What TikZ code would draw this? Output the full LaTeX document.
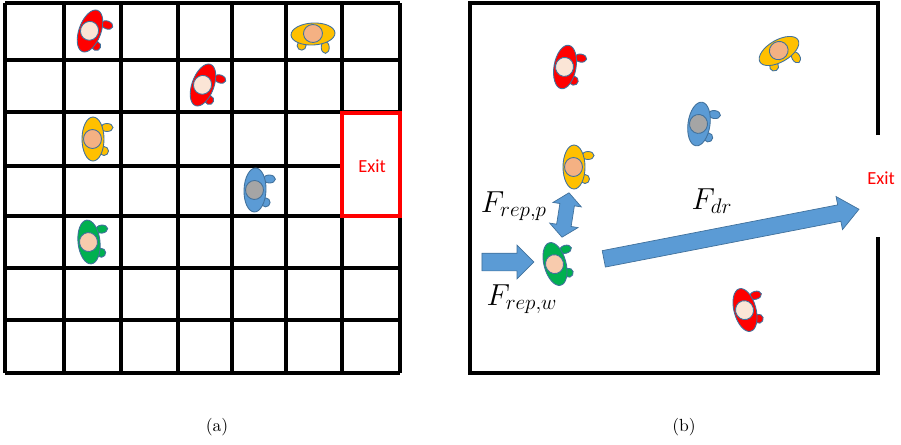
\documentclass[tikz,border=0pt]{standalone}
\usepackage{amsmath,amssymb}
\usepackage{xcolor}
\usepackage{fontspec}
\usepackage{tikz}
\usetikzlibrary{shapes.arrows}
\newfontfamily\exitfont{Carlito}
\definecolor{edgeblue}{HTML}{41719C}
\definecolor{forceblue}{HTML}{5B9BD5}
\definecolor{redbody}{HTML}{FF0000}
\definecolor{redhead}{HTML}{FBE5D6}
\definecolor{goldbody}{HTML}{FFC000}
\definecolor{goldhead}{HTML}{F4B183}
\definecolor{bluehead}{HTML}{A5A5A5}
\definecolor{greenbody}{HTML}{00B050}
\definecolor{greenhead}{HTML}{F8CBAD}
\tikzset{
  wall/.style={line width=2.2pt, draw=black},
  gridline/.style={line width=2pt, draw=black},
  exitbox/.style={line width=2.4pt, draw=red, fill=white},
  exitlab/.style={text=red, font=\exitfont\fontsize{10.5}{12}\selectfont},
  caplab/.style={font=\normalsize},
  forcelab/.style={font=\fontsize{16.5}{19}\selectfont},
  force/.style={draw=edgeblue, fill=forceblue, line width=0.4pt, outer sep=0pt, inner sep=0pt},
  personpart/.style={draw=edgeblue, line width=0.5pt}
}
% #1 x, #2 y, #3 turn, #4 body, #5 head
\newcommand{\person}[5]{
  \begin{scope}[shift={(#1,#2)}, rotate=#3]
    \draw[personpart, fill=#4] (14,11.5) ellipse (6 and 4);
    \draw[personpart, fill=#4] (11,-12) ellipse (4.5 and 4.5);
    \draw[personpart, fill=#4] (0,0) ellipse (11 and 22);
    \draw[personpart, fill=#5] (-0.5,0) ellipse (9 and 9.5);
  \end{scope}
}

\begin{document}
\begin{tikzpicture}[x=0.02cm, y=0.02cm]
  \useasboundingbox (0,0) rectangle (901,444);

  % left panel
  \foreach \gx in {5,64,121,178,232,286,342,400}
    \draw[gridline] (\gx,71) -- (\gx,441);
  \foreach \gy in {441,384,332,278,228,176,124,71}
    \draw[gridline] (5,\gy) -- (400,\gy);
  \draw[exitbox] (342,228) rectangle (400,331);
  \node[exitlab] (exitA) at (372,278) {Exit};

  \person{90}{413}{-20}{redbody}{redhead}
  \person{313}{410}{-87}{goldbody}{goldhead}
  \person{203}{359}{-20}{redbody}{redhead}
  \person{93}{305}{0}{goldbody}{goldhead}
  \person{255}{254}{-2}{forceblue}{bluehead}
  \person{89}{202}{6}{greenbody}{greenhead}

  % right panel
  \draw[wall] (878,309) -- (878,441) -- (470,441) -- (470,71) -- (878,71) -- (878,207);
  \node[exitlab] (exitB) at (881,266) {Exit};

  \person{565}{377}{-10}{redbody}{redhead}
  \person{779}{393}{-60}{goldbody}{goldhead}
  \person{699}{320}{-8}{forceblue}{bluehead}
  \person{574}{277}{0}{goldbody}{goldhead}
  \person{555}{180}{15}{greenbody}{greenhead}
  \person{745}{134}{15}{redbody}{redhead}

  \node[force, single arrow, rotate=0, minimum height=1.04cm, minimum width=0.66cm,
    inner ysep=0.17cm, single arrow head extend=0.16cm, single arrow tip angle=90] (fWall) at (503.5,182) {};
  \node[force, double arrow, rotate=81, minimum height=0.9cm, minimum width=0.56cm,
    inner ysep=0.14cm, double arrow head extend=0.14cm, double arrow tip angle=100] (fPed) at (565.5,229) {};
  \node[force, single arrow, rotate=11, minimum height=5.2cm, minimum width=0.66cm,
    inner ysep=0.16cm, single arrow head extend=0.17cm, single arrow tip angle=80] (fDrive) at (726.5,209) {};

  \node[forcelab] (labP) at (514,238) {$F_{rep,p}$};
  \node[forcelab] (labW) at (522,145) {$F_{rep,w}$};
  \node[forcelab] (labD) at (712,243) {$F_{dr}$};

  \node[caplab] (capA) at (217,17) {(a)};
  \node[caplab] (capB) at (684,17) {(b)};
\end{tikzpicture}
\end{document}
